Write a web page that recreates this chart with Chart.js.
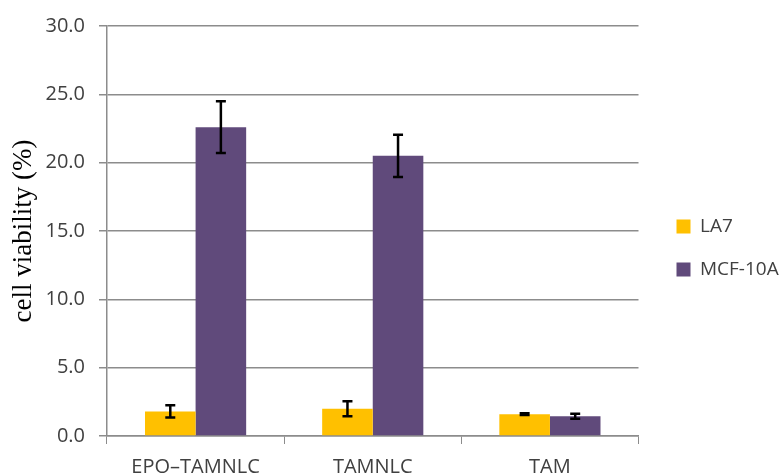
<!DOCTYPE html>
<html>
<head>
<meta charset="utf-8">
<script src="https://cdn.jsdelivr.net/npm/chart.js@4"></script>
<style>
  html, body { margin: 0; padding: 0; background: #fff; }
  #wrap { width: 781px; height: 475px; }
</style>
</head>
<body>
<div id="wrap"><canvas id="viabilityChart" width="781" height="475"></canvas></div>
<script>
// datos
const categories = ['EPO–TAMNLC', 'TAMNLC', 'TAM'];
const la7Values = [1.8, 2.0, 1.6];
const la7Errors = [0.45, 0.55, 0.07];
const mcfValues = [22.6, 20.5, 1.44];
const mcfErrors = [1.9, 1.55, 0.18];
const yTicks = [0, 5, 10, 15, 20, 25, 30];

const axisGray = '#8c8c8c';
const textGray = '#404040';

// barras de error dibujadas con las escalas de Chart.js
const errorBars = {
    id: 'errorBars',
    afterDatasetsDraw(chart) {
        const ctx = chart.ctx;
        const yScale = chart.scales.y;
        chart.data.datasets.forEach((ds, di) => {
            const meta = chart.getDatasetMeta(di);
            meta.data.forEach((bar, i) => {
                const v = ds.data[i];
                const e = ds.errors[i];
                const top = yScale.getPixelForValue(v + e);
                const bottom = yScale.getPixelForValue(v - e);
                const x = bar.x;
                ctx.save();
                ctx.strokeStyle = '#000';
                ctx.lineWidth = 2.5;
                ctx.beginPath();
                ctx.moveTo(x, top);
                ctx.lineTo(x, bottom);
                ctx.moveTo(x - 5, top);
                ctx.lineTo(x + 5, top);
                ctx.moveTo(x - 5, bottom);
                ctx.lineTo(x + 5, bottom);
                ctx.stroke();
                ctx.restore();
            });
        });
    }
};

const ctx = document.getElementById('viabilityChart').getContext('2d');
const chart = new Chart(ctx, {
    type: 'bar',
    data: {
        labels: categories,
        datasets: [
            {
                label: 'LA7',
                data: la7Values,
                errors: la7Errors,
                backgroundColor: '#FFC000',
                categoryPercentage: 0.571,
                barPercentage: 1.0
            },
            {
                label: 'MCF-10A',
                data: mcfValues,
                errors: mcfErrors,
                backgroundColor: '#604A7B',
                categoryPercentage: 0.571,
                barPercentage: 1.0
            }
        ]
    },
    options: {
        responsive: false,
        animation: false,
        layout: {
            padding: { top: 21, right: -2, bottom: 0, left: 0 }
        },
        plugins: {
            tooltip: { enabled: false },
            legend: {
                position: 'right',
                labels: {
                    boxWidth: 14,
                    boxHeight: 14,
                    padding: 24,
                    color: textGray,
                    font: { family: 'Open Sans', size: 19 }
                }
            }
        },
        scales: {
            x: {
                grid: {
                    display: true,
                    drawOnChartArea: false,
                    offset: true,
                    color: axisGray,
                    tickLength: 8
                },
                border: { color: axisGray, width: 1.5 },
                ticks: {
                    color: textGray,
                    padding: 11,
                    maxRotation: 0,
                    font: { family: 'Open Sans', size: 20 }
                },
                afterFit(scale) { scale.height = 39; }
            },
            y: {
                min: 0,
                max: 30,
                afterBuildTicks(scale) {
                    scale.ticks = yTicks.map(v => ({ value: v }));
                },
                grid: {
                    color: axisGray,
                    lineWidth: 1.5,
                    tickLength: 8
                },
                border: { color: axisGray, width: 1.5 },
                ticks: {
                    color: textGray,
                    padding: 14,
                    font: { family: 'Open Sans', size: 20 },
                    callback: v => v.toFixed(1)
                },
                title: {
                    display: true,
                    text: 'cell viability (%)',
                    color: '#000',
                    padding: { top: 8, bottom: 0 },
                    font: { family: 'Liberation Serif', size: 27 }
                },
                afterFit(scale) { scale.width = 107; }
            },
            // espaciador entre el área del gráfico y la leyenda
            y2: {
                position: 'right',
                display: true,
                grid: { display: false },
                border: { display: false },
                ticks: { display: false },
                afterFit(scale) { scale.width = 14; }
            }
        }
    },
    plugins: [errorBars]
});
</script>
</body>
</html>
